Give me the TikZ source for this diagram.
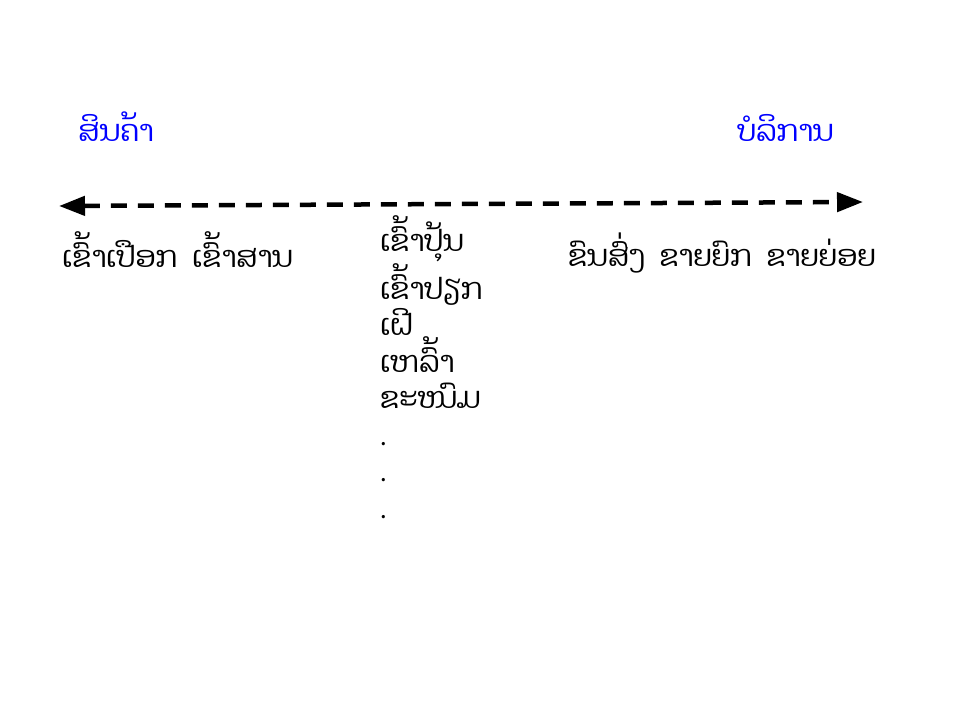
\documentclass[tikz,border=0pt]{standalone}
\usepackage{fontspec}
\newfontfamily\laofont[Script=Lao]{Dhyana}
\usetikzlibrary{arrows.meta}
\begin{document}
\begin{tikzpicture}[x=1pt,y=-1pt,
  laotext/.style={font=\laofont\fontsize{29.5}{36.5}\selectfont, inner sep=0pt, anchor=base west},
  head/.style={laotext, text=blue},
  spanline/.style={line width=4.5pt, dash pattern=on 16pt off 11pt, {Triangle[length=26pt,width=19pt]}-{Triangle[length=26pt,width=19pt]}}]
\useasboundingbox (0,0) rectangle (960,720);
\node[head] (goods) at (78,141) {ສິນຄ້າ};
\node[head] (serv) at (737,141) {ບໍລິການ};
\coordinate (L) at (59,206);
\coordinate (R) at (863,202);
\draw[spanline] (L) -- (R);
\node[laotext] (raw) at (62,267) {ເຂົ້າເປືອກ\ \ ເຂົ້າສານ};
\node[laotext, align=left] (mid) at (380,518) {ເຂົ້າປຸ້ນ\\ເຂົ້າປຽກ\\ເຝີ\\ເຫລົ້າ\\ຂະໜົມ\\.\\.\\.};
\node[laotext] (svc) at (568,266) {ຂົນສົ່ງ\ \ ຂາຍຍົກ\ \ ຂາຍຍ່ອຍ};
\end{tikzpicture}
\end{document}
